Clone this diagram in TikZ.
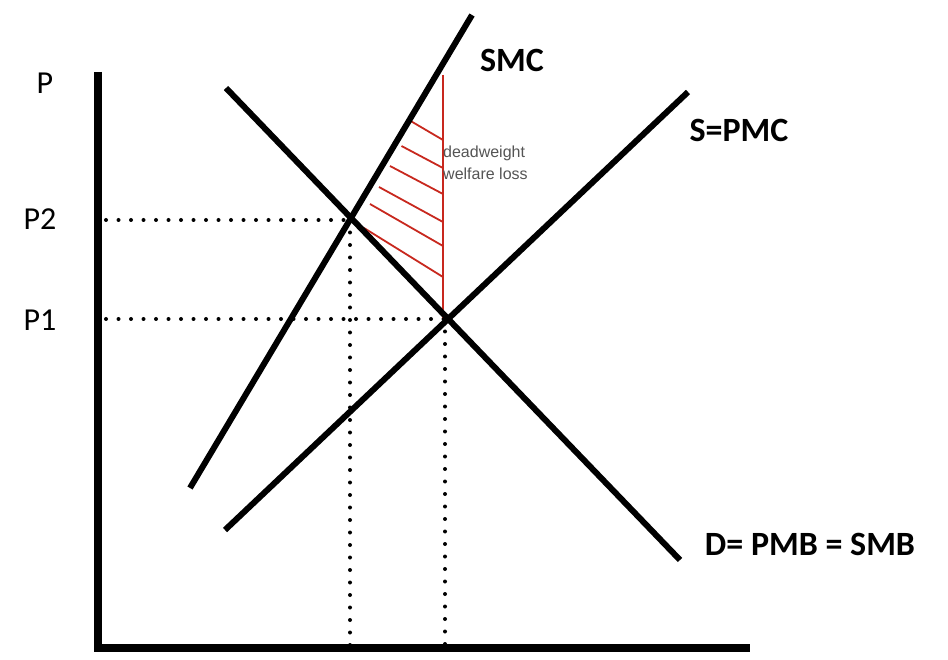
\documentclass[tikz,border=0pt]{standalone}
\usepackage{fontspec}
\setmainfont{Carlito}
\newfontfamily\smallsans{Liberation Sans}
\begin{document}
\begin{tikzpicture}[x=1pt,y=-1pt,
  axisline/.style={line width=8pt},
  curve/.style={line width=6pt},
  dotline/.style={line width=4pt, dash pattern=on 0pt off 12.5pt, line cap=round},
  hatch/.style={draw={rgb,255:red,200;green,40;blue,30}, line width=1.8pt},
  lbl/.style={font=\fontsize{32}{36}\selectfont, inner sep=0pt},
  blbl/.style={font=\fontsize{34}{38}\selectfont\bfseries, inner sep=0pt},
  dwl/.style={font=\smallsans\fontsize{16}{22}\selectfont, text={rgb,255:red,85;green,85;blue,85}, align=left, inner sep=0pt}]
\useasboundingbox[fill=white] (0,0) rectangle (948,660);
% axes
\coordinate (ytop) at (98,72);
\coordinate (origin) at (98,652);
\coordinate (xend) at (750,648);
\draw[axisline] (ytop) -- (origin);
\draw[axisline] (94,648) -- (xend);
% curves
\coordinate (smcA) at (190,488);
\coordinate (smcB) at (472,15);
\coordinate (pmcA) at (225,530);
\coordinate (pmcB) at (688,92);
\coordinate (dA) at (226,88);
\coordinate (dB) at (680,560);
\coordinate (e2) at (350,220);
\coordinate (e1) at (445,319);
% dotted guides
\coordinate (p2ax) at (106,220);
\coordinate (p1ax) at (106,319);
\coordinate (q2ax) at (350,646);
\coordinate (q1ax) at (445,646);
\draw[dotline] (p2ax) -- (e2);
\draw[dotline] (p1ax) -- (e1);
\draw[dotline] (e2) -- (q2ax);
\draw[dotline] (e1) -- (q1ax);
% deadweight loss hatching
\coordinate (vtop) at (443,75);
\coordinate (vbot) at (443,318);
\draw[hatch] (vtop) -- (vbot);
\draw[hatch] (411.5,121.5) -- (443,140);
\draw[hatch] (401.5,146) -- (443,168);
\draw[hatch] (390,166) -- (443,194);
\draw[hatch] (379,187) -- (443,222);
\draw[hatch] (370,204) -- (443,246);
\draw[hatch] (364,228) -- (443,277);
\draw[curve] (smcA) -- (smcB);
\draw[curve] (pmcA) -- (pmcB);
\draw[curve] (dA) -- (dB);
% labels
\node[lbl] (lp) at (45,83) {P};
\node[lbl] (lp2) at (40,219) {P2};
\node[lbl] (lp1) at (40,320) {P1};
\node[blbl] (lsmc) at (512,60) {SMC};
\node[blbl] (lpmc) at (739,130) {S=PMC};
\node[blbl] (ld) at (810,544) {D= PMB = SMB};
\node[dwl, anchor=north west] (ldwl) at (443,146) {deadweight\\welfare loss};
\end{tikzpicture}
\end{document}
